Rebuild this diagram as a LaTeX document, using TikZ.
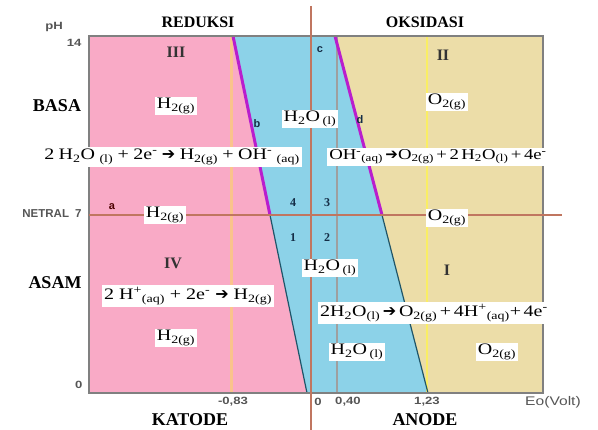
\documentclass[tikz,border=0pt]{standalone}
\usepackage{fontspec}
\setmainfont{Liberation Serif}
\setsansfont{Liberation Sans}
\newfontfamily\wideserif[FakeStretch=1.25]{Liberation Serif}
\newfontfamily\widesans[FakeStretch=1.25]{Liberation Sans}
\newfontfamily\arrowfont{DejaVu Sans}
\usetikzlibrary{positioning}

\definecolor{hydropink}{RGB}{249,170,198}
\definecolor{waterblue}{RGB}{140,210,232}
\definecolor{oxytan}{RGB}{236,221,168}
\definecolor{axisbrown}{RGB}{192,118,96}
\definecolor{cathodeorange}{RGB}{250,195,140}
\definecolor{anodeyellow}{RGB}{250,238,100}
\definecolor{edgepurple}{RGB}{185,30,205}
\definecolor{edgeteal}{RGB}{30,85,105}
\definecolor{tickgray}{RGB}{85,85,85}
\definecolor{zonenavy}{RGB}{20,45,70}

\newcommand{\chsub}[1]{\textsubscript{#1}}
\newcommand{\chsup}[1]{\textsuperscript{#1}}
\newcommand{\yields}{{\arrowfont\bfseries ➔}}

\begin{document}
\begin{tikzpicture}[x=1pt, y=-1pt,
        species/.style={fill=white, inner sep=1.5pt, font=\wideserif\fontsize{16}{18}\selectfont},
        equation/.style={fill=white, inner sep=2pt, font=\wideserif\fontsize{16}{18}\selectfont},
        sidetitle/.style={font=\bfseries\fontsize{16}{18}\selectfont},
        medium/.style={font=\bfseries\fontsize{18}{20}\selectfont},
        ticklbl/.style={font=\widesans\bfseries\fontsize{10.5}{12}\selectfont, text=tickgray},
        zonenum/.style={font=\bfseries\fontsize{16}{18}\selectfont, text=black!80},
        quadnum/.style={font=\bfseries\fontsize{12}{14}\selectfont, text=zonenavy},
        linelbl/.style={font=\sffamily\bfseries\fontsize{11}{13}\selectfont, text=zonenavy}
    ]
    \useasboundingbox (0,0) rectangle (598,430);

    \coordinate (tl) at (89,36);
    \coordinate (tr) at (543,36);
    \coordinate (bl) at (89,393);
    \coordinate (br) at (543,393);
    \coordinate (bTop) at (233,36);
    \coordinate (bMid) at (270,215);
    \coordinate (bBot) at (307,393);
    \coordinate (dTop) at (335,36);
    \coordinate (dMid) at (382,215);
    \coordinate (dBot) at (428,393);

    % daerah H2, H2O dan O2
    \fill[hydropink] (tl) -- (bTop) -- (bBot) -- (bl) -- cycle;
    \fill[waterblue] (bTop) -- (dTop) -- (dBot) -- (bBot) -- cycle;
    \fill[oxytan] (dTop) -- (tr) -- (br) -- (dBot) -- cycle;

    \foreach \gx/\gc/\gw in {231/cathodeorange/3pt, 337/gray!75/1.2pt, 427/anodeyellow/2pt}
        \draw[line width=\gw, \gc] (\gx,36) -- (\gx,393);

    \draw[line width=3pt, edgepurple] (bTop) -- (bMid);
    \draw[line width=1.2pt, edgeteal] (bMid) -- (bBot);
    \draw[line width=3pt, edgepurple] (dTop) -- (dMid);
    \draw[line width=1.2pt, edgeteal] (dMid) -- (dBot);

    \draw[gray, line width=1.5pt] (tl) rectangle (br);

    \coordinate (netL) at (89,215);
    \coordinate (netR) at (562,215);
    \coordinate (zeroT) at (311,6);
    \coordinate (zeroB) at (311,430);
    \draw[line width=2.5pt, axisbrown] (netL) -- (netR);
    \draw[line width=2.5pt, axisbrown] (zeroT) -- (zeroB);

    % judul dan sumbu
    \node[sidetitle] (reduksi) at (198,22) {REDUKSI};
    \node[sidetitle] (oksidasi) at (425,22) {OKSIDASI};
    \node[medium] (basa) at (57,106) {BASA};
    \node[medium] (asam) at (55,283) {ASAM};
    \node[medium] (katode) at (190,420) {KATODE};
    \node[medium] (anode) at (425,420) {ANODE};
    \node[ticklbl] (phlbl) at (54,27) {pH};
    \node[ticklbl, anchor=east] (ph14) at (85,43) {14};
    \node[ticklbl, anchor=east] (ph0) at (86,385) {0};
    \node[ticklbl, font=\sffamily\bfseries\fontsize{11.5}{13}\selectfont, anchor=east] (ph7) at (85,214) {NETRAL\hspace{6pt}7};
    \node[ticklbl] (em083) at (233,402) {-0,83};
    \node[ticklbl] (e0) at (318,402) {0};
    \node[ticklbl] (e040) at (348,402) {0,40};
    \node[ticklbl] (e123) at (427,402) {1,23};
    \node[ticklbl, font=\widesans\fontsize{12.5}{14}\selectfont] (evolt) at (553,402) {Eo(Volt)};

    % nomor daerah
    \node[zonenum] (zoneIII) at (176,52) {III};
    \node[zonenum] (zoneII) at (443,55) {II};
    \node[zonenum] (zoneIV) at (173,263) {IV};
    \node[zonenum] (zoneI) at (447,270) {I};
    \node[quadnum] (q4) at (293,203) {4};
    \node[quadnum] (q3) at (327,203) {3};
    \node[quadnum] (q1) at (293,238) {1};
    \node[quadnum] (q2) at (327,238) {2};
    \node[linelbl, text=black!70!red] (la) at (112,207) {a};
    \node[linelbl] (lb) at (257,124) {b};
    \node[linelbl] (lc) at (320,50) {c};
    \node[linelbl] (ld) at (360,120) {d};

    % spesi
    \node[species] (h2top) at (176,106) {H\chsub{2(g)}};
    \node[species] (h2mid) at (165,215) {H\chsub{2(g)}};
    \node[species] (h2bot) at (176,338) {H\chsub{2(g)}};
    \node[species] (wtop) at (310,119) {H\chsub{2}O\,\chsub{(l)}};
    \node[species] (wmid) at (330,268) {H\chsub{2}O\,\chsub{(l)}};
    \node[species] (wbot) at (357,352) {H\chsub{2}O\,\chsub{(l)}};
    \node[species] (o2top) at (447,102) {O\chsub{2(g)}};
    \node[species] (o2mid) at (447,218) {O\chsub{2(g)}};
    \node[species] (o2bot) at (497,352) {O\chsub{2(g)}};

    % reaksi
    \node[equation] (eqbasaR) at (172,157) {2\;H\chsub{2}O\;\chsub{(l)}\;+\;2e\chsup{-}\;\yields\;H\chsub{2(g)}\;+\;OH\chsup{-}\;\chsub{(aq)}};
    \node[equation, font=\wideserif\fontsize{15}{17}\selectfont] (eqbasaO) at (438,157) {OH\chsup{-}\chsub{(aq)}\,\yields O\chsub{2(g)}\,+\,2\,H\chsub{2}O\chsub{(l)}\,+\,4e\chsup{-}};
    \node[equation] (eqasamR) at (188,296) {2 H\chsup{+}\chsub{(aq)} + 2e\chsup{-} \yields\ H\chsub{2(g)}};
    \node[equation] (eqasamO) at (434,313) {2H\chsub{2}O\chsub{(l)}\,\yields\,O\chsub{2(g)}\,+\,4H\chsup{+}\chsub{(aq)}+\,4e\chsup{-}};

\end{tikzpicture}
\end{document}
